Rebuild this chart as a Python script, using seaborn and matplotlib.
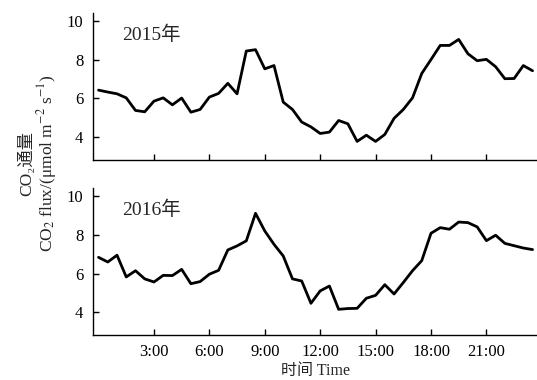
import numpy as np
import pandas as pd
import matplotlib
matplotlib.use("Agg")
import matplotlib.pyplot as plt
import seaborn as sns

# half-hourly time of day (hours)
hours = np.arange(0, 24, 0.5)

flux_2015 = [6.43, 6.33, 6.24, 6.03, 5.38, 5.31, 5.86, 6.03, 5.67, 6.02,
             5.29, 5.43, 6.07, 6.26, 6.78, 6.24, 8.45, 8.52, 7.53, 7.70,
             5.81, 5.43, 4.78, 4.53, 4.19, 4.26, 4.86, 4.69, 3.78, 4.10,
             3.78, 4.14, 4.97, 5.43, 6.03, 7.29, 8.01, 8.74, 8.74, 9.05,
             8.31, 7.95, 8.02, 7.64, 7.02, 7.03, 7.70, 7.43]

flux_2016 = [6.84, 6.60, 6.95, 5.83, 6.15, 5.73, 5.57, 5.91, 5.90, 6.22,
             5.48, 5.59, 5.97, 6.17, 7.22, 7.43, 7.69, 9.11, 8.20, 7.51,
             6.91, 5.73, 5.62, 4.47, 5.11, 5.36, 4.16, 4.20, 4.21, 4.73,
             4.88, 5.43, 4.95, 5.54, 6.15, 6.67, 8.08, 8.37, 8.29, 8.66,
             8.63, 8.41, 7.70, 7.98, 7.56, 7.44, 7.32, 7.24]

years = ["2015年", "2016年"]
x_ticks = [3, 6, 9, 12, 15, 18, 21]
x_ticklabels = ["3:00", "6:00", "9:00", "12:00", "15:00", "18:00", "21:00"]
y_ticks = [4, 6, 8, 10]

sns.set_style("ticks")
fam = ["Liberation Serif", "DejaVu Serif", "Noto Sans CJK SC"]
plt.rcParams["font.family"] = fam
plt.rcParams["mathtext.fontset"] = "stix"

fig = plt.figure(figsize=(5.37, 3.80), dpi=100)
ax1 = fig.add_axes([0.1732, 0.579, 0.8268, 0.386])
ax2 = fig.add_axes([0.1732, 0.1176, 0.8268, 0.3869])

for ax, vals, yr, show in [(ax1, flux_2015, years[0], False), (ax2, flux_2016, years[1], True)]:
    df = pd.DataFrame({"hour": hours, "flux": vals})
    sns.lineplot(data=df, x="hour", y="flux", ax=ax, color="black", linewidth=2.0)
    ax.set_xlim(-0.30, 23.74)
    ax.set_ylim(2.82, 10.40)
    ax.set_yticks(y_ticks)
    ax.set_xticks(x_ticks)
    if show:
        ax.set_xticklabels(x_ticklabels)
    else:
        ax.set_xticklabels([])
    ax.set_xlabel("")
    ax.set_ylabel("")
    for s in ["top", "right"]:
        ax.spines[s].set_visible(False)
    for s in ["left", "bottom"]:
        ax.spines[s].set_linewidth(1.0)
        ax.spines[s].set_color("black")
    ax.tick_params(axis="both", direction="in", length=4, width=1.0,
                   labelsize=12, colors="black")
    ax.tick_params(axis="y", pad=7)
    ax.tick_params(axis="x", pad=6)
    ax.text(0.065, 0.852, yr, transform=ax.transAxes, fontsize=14,
            va="center", ha="left", family=fam)

fig.text(0.587, 0.024, "时间 Time", ha="center", va="center", fontsize=11.5, family=fam)
fig.text(0.05, 0.57, "CO₂通量", rotation=90, ha="center", va="center",
         fontsize=12.5, family=fam)
fig.text(0.088, 0.57, "CO$_2$ flux/(μmol m$^{-2}$ s$^{-1}$)", rotation=90,
         ha="center", va="center", fontsize=12.5, family=fam)

fig.savefig("out.png", dpi=100)
